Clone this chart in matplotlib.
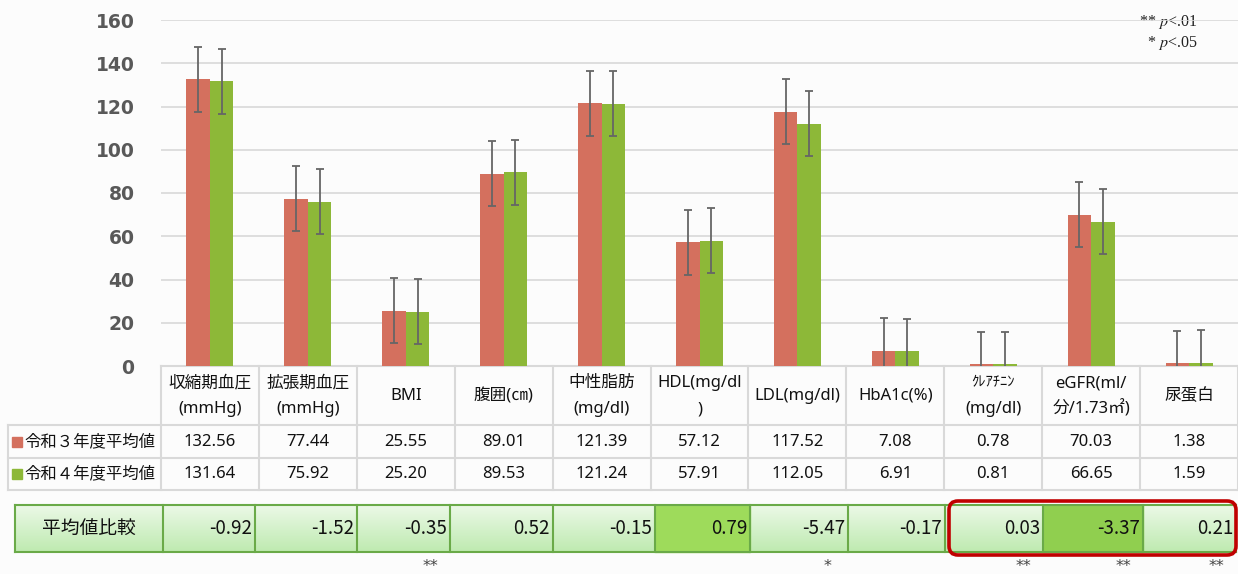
import matplotlib
matplotlib.use("Agg")
import matplotlib.pyplot as plt
import numpy as np
from matplotlib.patches import Rectangle, FancyBboxPatch

plt.rcParams['mathtext.fontset'] = 'stix'

# ---------------- data ----------------
categories = ["収縮期血圧\n(mmHg)", "拡張期血圧\n(mmHg)", "BMI", "腹囲(㎝)", "中性脂肪\n(mg/dl)",
              "HDL(mg/dl\n)", "LDL(mg/dl)", "HbA1c(%)", "ｸﾚｱﾁﾆﾝ\n(mg/dl)", "eGFR(ml/\n分/1.73㎡)", "尿蛋白"]
series_names = ["令和３年度平均値", "令和４年度平均値"]
r3_values = [132.56, 77.44, 25.55, 89.01, 121.39, 57.12, 117.52, 7.08, 0.78, 70.03, 1.38]
r4_values = [131.64, 75.92, 25.20, 89.53, 121.24, 57.91, 112.05, 6.91, 0.81, 66.65, 1.59]
error_value = 15
diff_label = "平均値比較"
diff_values = ["-0.92", "-1.52", "-0.35", "0.52", "-0.15", "0.79", "-5.47", "-0.17", "0.03", "-3.37", "0.21"]
highlight = [False, False, False, False, False, True, False, False, False, True, False]
significance = ["", "", "**", "", "", "", "*", "", "**", "**", "**"]
yticks = [0, 20, 40, 60, 80, 100, 120, 140, 160]

# ---------------- style ----------------
RED = "#D4705E"
GREEN = "#8DB838"
BG = "#fcfcfc"
GRID = "#d9d9d9"
TXT = ["Noto Sans", "Noto Sans CJK JP"]
CJK = ["Noto Sans CJK JP", "DejaVu Sans"]

W, H = 1238, 574
fig = plt.figure(figsize=(W / 100, H / 100), dpi=100, facecolor=BG)

# overlay axes in pixel coordinates for table
ov = fig.add_axes([0, 0, 1, 1], zorder=0)
ov.set_xlim(0, W)
ov.set_ylim(H, 0)
ov.axis("off")

# main chart axes
x_left, x_right = 161, 1238
y_top, y_bot = 20, 366
ax = fig.add_axes([x_left / W, (H - y_bot) / H, (x_right - x_left) / W, (y_bot - y_top) / H], zorder=1)
ax.set_facecolor("none")
n = len(categories)
x = np.arange(n)
bw = 0.24
ax.bar(x - bw / 2, r3_values, bw, color=RED, zorder=2)
ax.bar(x + bw / 2, r4_values, bw, color=GREEN, zorder=2)
ekw = dict(fmt="none", ecolor="#666666", elinewidth=1.3, capsize=3.2, capthick=1.3, zorder=3)
ax.errorbar(x - bw / 2, r3_values, yerr=error_value, **ekw)
ax.errorbar(x + bw / 2, r4_values, yerr=error_value, **ekw)
ax.set_xlim(-0.5, n - 0.5)
ax.set_ylim(0, 160)
ax.set_yticks(yticks)
ax.set_xticks([])
ax.yaxis.grid(True, color=GRID, lw=1.2, zorder=0)
ax.set_axisbelow(True)
for s in ax.spines.values():
    s.set_visible(False)
ax.tick_params(axis="y", length=0, pad=19, labelsize=13.5, labelcolor="#595959")
for lab in ax.get_yticklabels():
    lab.set_fontweight("bold")
    lab.set_fontfamily("DejaVu Sans")

# significance legend
ov.text(1197, 22, r"** $p$<.01", ha="right", va="center", fontsize=11.5, family="Liberation Serif", color="#222222")
ov.text(1197, 43, r"* $p$<.05", ha="right", va="center", fontsize=11.5, family="Liberation Serif", color="#222222")

# ---------------- data table ----------------
colw = (x_right - x_left) / n
edges = [x_left + colw * k for k in range(n + 1)]
hdr_top, hdr_bot, r1_bot, r2_bot = 366, 425, 458, 490
tbl_left = 8
lc = "#d9d9d9"
ov.plot([x_left, x_right], [hdr_top, hdr_top], color=lc, lw=1.5)
for yy in (hdr_bot, r1_bot, r2_bot):
    ov.plot([tbl_left, x_right], [yy, yy], color=lc, lw=1.5)
ov.plot([tbl_left, tbl_left], [hdr_bot, r2_bot], color=lc, lw=1.5)
for e in edges:
    ov.plot([e, e], [hdr_top, r2_bot], color=lc, lw=1.5)

for i, cat in enumerate(categories):
    cx = (edges[i] + edges[i + 1]) / 2
    lines = cat.split("\n")
    if len(lines) == 2:
        fs0 = 10.5 if lines[0].startswith("ｸ") else 12
        ov.text(cx, 383, lines[0], ha="center", va="center", fontsize=fs0, family=TXT, color="#111111")
        ov.text(cx, 409, lines[1], ha="center", va="center", fontsize=12, family=TXT, color="#111111")
    else:
        ov.text(cx, 396, cat, ha="center", va="center", fontsize=12, family=TXT, color="#111111")
    ov.text(cx, 442, f"{r3_values[i]:.2f}", ha="center", va="center", fontsize=12, family=TXT, color="#111111")
    ov.text(cx, 474, f"{r4_values[i]:.2f}", ha="center", va="center", fontsize=12, family=TXT, color="#111111")

for (yc, name, col) in ((442, series_names[0], RED), (474, series_names[1], GREEN)):
    ov.add_patch(Rectangle((12, yc - 5), 10, 10, color=col))
    ov.text(24, yc, name, ha="left", va="center", fontsize=11.8, family=CJK, color="#111111")

# ---------------- comparison row ----------------
cmp_edges = [15, 163, 255, 357, 450, 553, 655, 750, 848, 945, 1043, 1143, 1236]
c_top, c_bot = 505, 552
grad = np.linspace(0, 1, 64)[:, None, None]
top_c = np.array([0.925, 0.975, 0.905])
bot_c = np.array([0.745, 0.918, 0.690])
grad_img = top_c * (1 - grad) + bot_c * grad
ov.imshow(grad_img, extent=(cmp_edges[0], cmp_edges[-1], c_bot, c_top), aspect="auto",
          origin="upper", zorder=1, interpolation="bilinear")
hl_colors = {5: "#9edb5b", 9: "#90cf4f"}
for i in range(n):
    if highlight[i]:
        ov.add_patch(Rectangle((cmp_edges[i + 1], c_top), cmp_edges[i + 2] - cmp_edges[i + 1], c_bot - c_top,
                               color=hl_colors.get(i, "#92d050"), zorder=2))
bc = "#6aaa48"
ov.plot([cmp_edges[0], cmp_edges[-1]], [c_top, c_top], color=bc, lw=1.5, zorder=3)
ov.plot([cmp_edges[0], cmp_edges[-1]], [c_bot, c_bot], color=bc, lw=1.5, zorder=3)
for e in cmp_edges:
    ov.plot([e, e], [c_top, c_bot], color=bc, lw=1.5, zorder=3)
ov.text((cmp_edges[0] + cmp_edges[1]) / 2, 528, diff_label, ha="center", va="center",
        fontsize=13.5, family=CJK, color="#111111", zorder=4)
for i, v in enumerate(diff_values):
    ov.text(cmp_edges[i + 2] - 3, 528, v, ha="right", va="center", fontsize=13.5,
            family=CJK, color="#111111", zorder=4)
    if significance[i]:
        ov.text(cmp_edges[i + 2] - 20, 567, significance[i], ha="center", va="center",
                fontsize=11.5, family="DejaVu Sans", color="#444444", zorder=4)

ov.add_patch(FancyBboxPatch((949, 501), 1236 - 949, 555 - 501,
                            boxstyle="round,pad=0,rounding_size=9", fill=False,
                            edgecolor="#c00000", lw=2.6, zorder=5))
ov.set_xlim(0, W)
ov.set_ylim(H, 0)

fig.savefig("out.png", dpi=100, facecolor=BG)
